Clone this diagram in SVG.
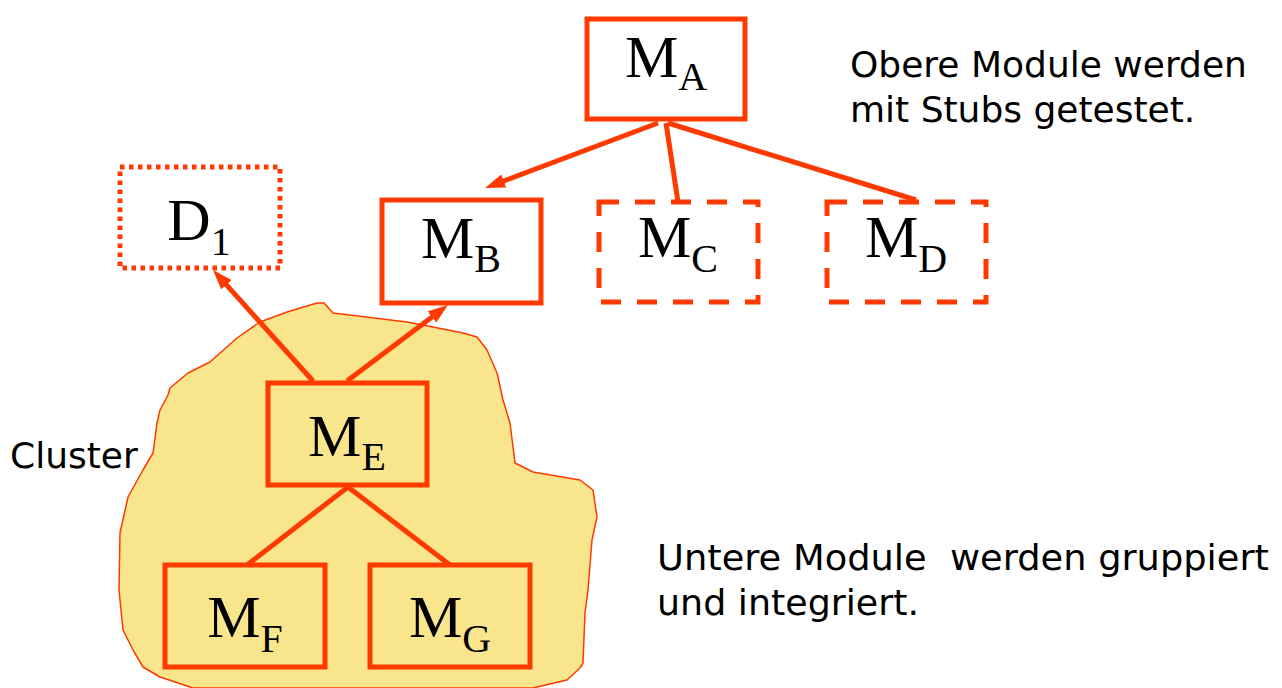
<svg xmlns="http://www.w3.org/2000/svg" width="1282" height="688" viewBox="0 0 1282 688">
<style>
.box{fill:#ffffff;stroke:#ff3a00;stroke-width:5}
.inbox{fill:#f8e58c;stroke:#ff3a00;stroke-width:5}
.dash{stroke-dasharray:20 16}
.dot{stroke-dasharray:4.5 4.5}
.lbl{font-family:"Liberation Serif","Times New Roman",serif;font-size:60px;fill:#000;text-anchor:middle}
.sub{font-size:40px}
.note{font-family:"DejaVu Sans",Verdana,sans-serif;font-size:36px;fill:#000}
.edge{stroke:#ff3a00;stroke-width:5;fill:none}
</style>
<defs>
<marker id="arr" viewBox="0 0 20 14" refX="10" refY="7" markerWidth="20" markerHeight="14" markerUnits="userSpaceOnUse" orient="auto">
<path d="M0,0 L20,7 L0,14 Z" fill="#ff3a00"/>
</marker>
</defs>
<g id="cluster">
<path d="M168,395 L170,388 L188,373 L210,362 L237,338 L260,322 L287,312 L317,303 L324,303 L333,313 L407,322 L423,325 L463,333 L477,337 L487,350 L497,373 L503,400 L510,423 L515,463 L533,472 L580,480 L593,490 L597,517 L592,540 L588,590 L585,613 L583,663 L580,668 L567,680 L533,688 L333,688 L193,688 L160,677 L143,667 L133,650 L123,630 L119,590 L120,533 L128,497 L143,470 L153,453 L157,423 L160,410 Z" fill="#f8e58c" stroke="#ff3a00" stroke-width="1.5" stroke-linejoin="round"/>
</g>
<g id="connectors">
<line class="edge" x1="658" y1="123" x2="494.4" y2="184.5" marker-end="url(#arr)"/>
<line class="edge" x1="666" y1="123" x2="678" y2="202"/>
<line class="edge" x1="668" y1="123" x2="916" y2="200"/>
<line class="edge" x1="313" y1="381" x2="219.7" y2="277.4" marker-end="url(#arr)"/>
<line class="edge" x1="347" y1="381" x2="440" y2="311" marker-end="url(#arr)"/>
<line class="edge" x1="348" y1="487" x2="247" y2="565"/>
<line class="edge" x1="348" y1="487" x2="450" y2="565"/>
</g>
<g id="MA">
<rect class="box" x="587" y="19" width="158" height="100"/>
<text class="lbl" x="666" y="77">M<tspan class="sub" dy="13">A</tspan></text>
</g>
<g id="D1">
<rect class="box dot" x="120" y="167" width="160" height="101"/>
<text class="lbl" x="199" y="240">D<tspan class="sub" dy="15">1</tspan></text>
</g>
<g id="MB">
<rect class="box" x="382" y="200" width="159" height="103"/>
<text class="lbl" x="461" y="258">M<tspan class="sub" dy="14">B</tspan></text>
</g>
<g id="MC">
<rect class="box dash" x="599" y="202" width="159" height="100"/>
<text class="lbl" x="678" y="257">M<tspan class="sub" dy="15">C</tspan></text>
</g>
<g id="MD">
<rect class="box dash" x="827" y="202" width="159" height="100"/>
<text class="lbl" x="906" y="257">M<tspan class="sub" dy="15">D</tspan></text>
</g>
<g id="ME">
<rect class="inbox" x="268" y="383" width="159" height="102"/>
<text class="lbl" x="347" y="456">M<tspan class="sub" dy="14">E</tspan></text>
</g>
<g id="MF">
<rect class="inbox" x="165" y="565" width="160" height="102"/>
<text class="lbl" x="245" y="637">M<tspan class="sub" dy="15">F</tspan></text>
</g>
<g id="MG">
<rect class="inbox" x="370" y="565" width="160" height="102"/>
<text class="lbl" x="450" y="637">M<tspan class="sub" dy="15">G</tspan></text>
</g>
<g id="notes">
<text class="note" x="10" y="468">Cluster</text>
<text class="note" x="850" y="77">Obere Module werden</text>
<text class="note" x="850" y="122">mit Stubs getestet.</text>
<text class="note" x="657" y="570" xml:space="preserve" textLength="612" lengthAdjust="spacingAndGlyphs">Untere Module  werden gruppiert</text>
<text class="note" x="657" y="615" textLength="262" lengthAdjust="spacingAndGlyphs">und integriert.</text>
</g>
</svg>
